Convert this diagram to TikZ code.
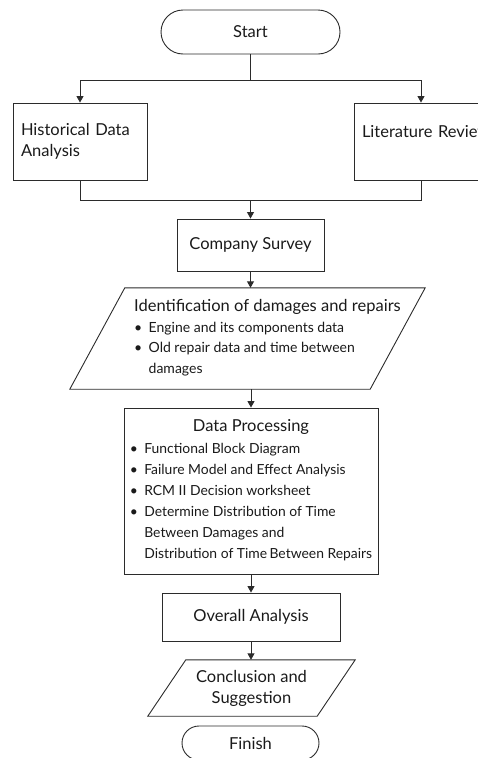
\documentclass[tikz,border=0pt]{standalone}
\usepackage{fontspec}
\setmainfont{Lato}
\usepackage{xcolor}
\usepackage{tikz}
\usetikzlibrary{arrows.meta, positioning, calc}
\definecolor{fline}{HTML}{2B2B2B}
\definecolor{ftext}{HTML}{1A1A1A}
\newcommand{\bul}{\makebox[14.5pt][l]{\textbullet}}

\begin{document}
\begin{tikzpicture}[x=1pt, y=-1pt,
  boxline/.style={draw=fline, line width=0.9pt},
  procbox/.style={boxline, rectangle, text=ftext, font=\fontsize{16.5}{21}\selectfont},
  termbox/.style={procbox, rounded corners=#1},
  flow/.style={fline, line width=0.9pt},
  flowarr/.style={flow, -{Triangle[length=6.5pt,width=7pt]}}]

  \useasboundingbox (0,0) rectangle (478,758);

  %% Start and the two sources
  \node[termbox=22pt, minimum width=179pt, minimum height=44pt] (start) at (250.5,32) {Start};
  \node[procbox, minimum width=134pt, minimum height=77pt, text width=118pt, inner xsep=8pt, align=left]
    (hist) at (80,141.5) {Historical Data\\Analysis};
  \node[procbox, minimum width=134pt, minimum height=77pt, text width=118pt, inner xsep=8pt, align=left]
    (lit) at (421,141.5) {\mbox{Literature Review}\\\mbox{}};

  \coordinate (split) at (250.5,80);
  \coordinate (join) at (250.5,200);
  \draw[flow] (start.south) -- (split);
  \draw[flowarr] (split) -| (hist.north);
  \draw[flowarr] (split) -| (lit.north);
  \draw[flow] (hist.south) |- (join);
  \draw[flow] (lit.south) |- (join);

  %% Survey
  \node[procbox, minimum width=147pt, minimum height=52pt] (survey) at (250.5,245) {Company Survey};
  \draw[flowarr] (join) -- (survey.north);

  %% ── Identification (parallelogram) ──────────────────────────
  \node[text=ftext, minimum width=355pt, minimum height=101pt, inner sep=0pt] (ident) at (247.5,338.5)
    {\hspace*{40pt}\fontsize{14}{20.5}\selectfont
     \raisebox{-5pt}{\begin{tabular}{@{}l@{}}
       {\fontsize{16.5}{20}\selectfont Identification of damages and repairs}\\
       \bul Engine and its components data\\
       \bul Old repair data and time between\\
       \hspace*{14.5pt}damages
     \end{tabular}}};
  \draw[boxline] ($(ident.north west)+(55,0)$) -- (ident.north east)
    -- ($(ident.south east)+(-55,0)$) -- (ident.south west) -- cycle;
  \draw[flowarr] (survey.south) -- (survey.south |- ident.north);

  %% ── Data processing ─────────────────────────────────────────
  \node[procbox, minimum width=254pt, minimum height=166pt, font=\fontsize{13.9}{21}\selectfont]
    (proc) at (251,491)
    {\raisebox{-3pt}{\begin{tabular}{@{}l@{}}
       \multicolumn{1}{@{}c@{}}{\fontsize{16.5}{21}\selectfont Data Processing}\\[1pt]
       \bul Functional Block Diagram\\
       \bul Failure Model and Effect Analysis\\
       \bul RCM II Decision worksheet\\
       \bul Determine Distribution of Time\\
       \hspace*{14.5pt}Between Damages and\\
       \hspace*{14.5pt}Distribution of Time\,Between Repairs
     \end{tabular}}};
  \draw[flowarr] (ident.south -| proc.north) -- (proc.north);

  %% Overall analysis
  \node[procbox, minimum width=178pt, minimum height=48pt] (overall) at (251,617) {Overall Analysis};
  \draw[flowarr] (proc.south) -- (overall.north);

  %% Conclusion (parallelogram)
  \node[text=ftext, font=\fontsize{16.5}{21}\selectfont, align=center, minimum width=207pt,
    minimum height=56pt, inner sep=0pt] (concl) at (251.5,688) {Conclusion and\\Suggestion};
  \draw[boxline] ($(concl.north west)+(38,0)$) -- (concl.north east)
    -- ($(concl.south east)+(-38,0)$) -- (concl.south west) -- cycle;
  \draw[flowarr] (overall.south) -- (overall.south |- concl.north);

  %% Finish
  \node[termbox=17pt, minimum width=137pt, minimum height=34pt] (finish) at (250.5,743) {Finish};

\end{tikzpicture}
\end{document}
